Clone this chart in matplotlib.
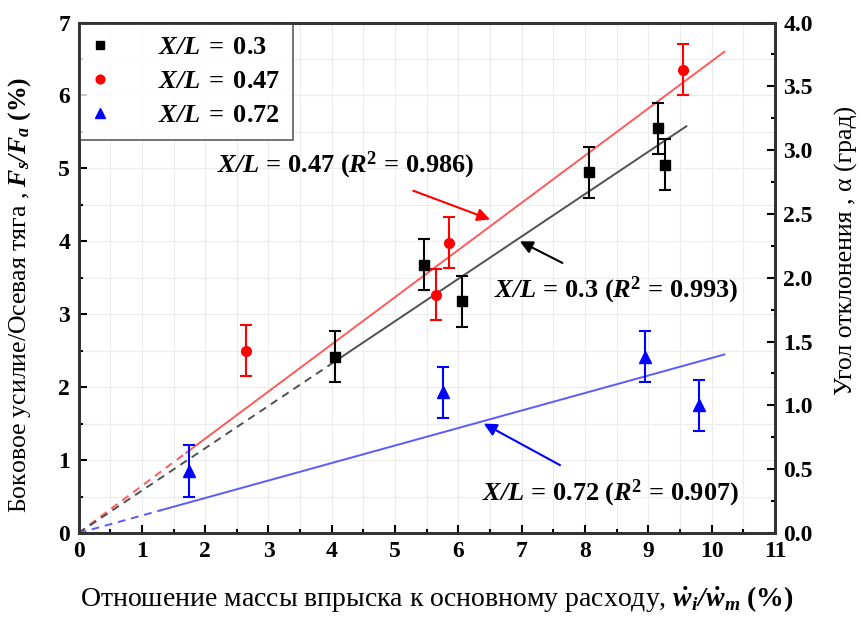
import numpy as np
import matplotlib.pyplot as plt
from matplotlib.ticker import MultipleLocator

plt.rcParams['font.family'] = ['Liberation Serif', 'DejaVu Serif']
plt.rcParams['mathtext.fontset'] = 'custom'
plt.rcParams['mathtext.rm'] = 'Liberation Serif'
plt.rcParams['mathtext.it'] = 'Liberation Serif:italic'
plt.rcParams['mathtext.bf'] = 'Liberation Serif:bold'
plt.rcParams['mathtext.bfit'] = 'Liberation Serif:bold:italic'

# данные
x_03 = [4.05, 5.45, 6.05, 8.07, 9.15, 9.27]
y_03 = [2.42, 3.68, 3.18, 4.95, 5.55, 5.05]
x_047 = [2.65, 5.65, 5.85, 9.55]
y_047 = [2.50, 3.27, 3.98, 6.35]
x_072 = [1.75, 5.75, 8.95, 9.80]
y_072 = [0.85, 1.93, 2.42, 1.75]
err = 0.35

# линии аппроксимации (наклон, начало сплошной части, конец)
fit_03 = (0.581, 4.05, 9.6)
fit_047 = (0.647, 1.7, 10.2)
fit_072 = (0.240, 1.3, 10.2)

fig = plt.figure(figsize=(8.63, 6.21), dpi=100)
ax = fig.add_axes([0.091, 0.1417, 0.807, 0.822])

for (k, x1, x2), c in [(fit_047, '#ff5a5a'), (fit_03, '#505050'), (fit_072, '#5a5aff')]:
    ax.plot([0, x1], [0, k * x1], color=c, lw=1.4, ls=(0, (4, 3)))
    ax.plot([x1, x2], [k * x1, k * x2], color=c, lw=1.4)

e1 = ax.errorbar(x_03, y_03, yerr=err, fmt='s', color='black', ms=7, capsize=4,
                 elinewidth=1.5, capthick=1.5)
e2 = ax.errorbar(x_047, y_047, yerr=err, fmt='o', color='red', ms=7, capsize=4,
                 elinewidth=1.5, capthick=1.5)
e3 = ax.errorbar(x_072, y_072, yerr=err, fmt='^', color='blue', ms=8, capsize=4,
                 elinewidth=1.5, capthick=1.5)

def lbl(v):
    return r'$\bfit{X/L}\;\mathbf{=}\;\mathbf{' + v + '}$'

def lbl_r2(v, r2):
    return (r'$\bfit{X/L}\,\mathbf{=}\,\mathbf{' + v + r'}\ \mathbf{(}\bfit{R}^{\mathbf{2}}\,\mathbf{=}\,\mathbf{'
            + r2 + ')}$')

ax.annotate(lbl_r2('0.47', '0.986'), xy=(6.5, 4.3), xytext=(4.22, 5.04),
            ha='center', va='center', fontsize=19,
            arrowprops=dict(arrowstyle='-|>', color='red', lw=1.5, shrinkA=14, shrinkB=0))
ax.annotate(lbl_r2('0.3', '0.993'), xy=(6.97, 4.0), xytext=(8.49, 3.33),
            ha='center', va='center', fontsize=19,
            arrowprops=dict(arrowstyle='-|>', color='black', lw=1.5, shrinkA=14, shrinkB=0))
ax.annotate(lbl_r2('0.72', '0.907'), xy=(6.4, 1.5), xytext=(8.41, 0.55),
            ha='center', va='center', fontsize=19,
            arrowprops=dict(arrowstyle='-|>', color='blue', lw=1.5, shrinkA=14, shrinkB=0))

ax.set_xlim(0, 11)
ax.set_ylim(0, 7)
ax.xaxis.set_major_locator(MultipleLocator(1))
ax.xaxis.set_minor_locator(MultipleLocator(0.5))
ax.yaxis.set_major_locator(MultipleLocator(1))
ax.yaxis.set_minor_locator(MultipleLocator(0.5))
ax.grid(which='both', color='#ececec', lw=0.8)
ax.set_axisbelow(True)
ax.tick_params(which='both', direction='in', width=1.5)
ax.tick_params(which='major', length=6, labelsize=17, pad=6)
ax.tick_params(which='minor', length=3)
for lab in ax.get_xticklabels() + ax.get_yticklabels():
    lab.set_fontweight('bold')
for s in ax.spines.values():
    s.set_linewidth(2)
    s.set_color('#333333')

ax.set_xlabel(r'Отношение массы впрыска к основному расходу, $\bfit{\dot{w}_i/\dot{w}_m}$ $\mathbf{(\%)}$',
              fontsize=20)
ax.xaxis.set_label_coords(0.515, -0.1)
ax.set_ylabel(r'Боковое усилие/Осевая тяга , $\bfit{F_s/F_a}$ $\mathbf{(\%)}$', fontsize=18.5)
ax.yaxis.set_label_coords(-0.066, 0.466)

ax2 = ax.twinx()
ax2.set_ylim(0, 4)
ax2.yaxis.set_major_locator(MultipleLocator(0.5))
ax2.yaxis.set_minor_locator(MultipleLocator(0.25))
ax2.yaxis.set_major_formatter('{x:.1f}')
ax2.tick_params(which='both', direction='in', width=1.5)
ax2.tick_params(which='major', length=6, labelsize=17, pad=6)
ax2.tick_params(which='minor', length=3)
for lab in ax2.get_yticklabels():
    lab.set_fontweight('bold')
for s in ax2.spines.values():
    s.set_linewidth(2)
    s.set_color('#333333')
ax2.set_ylabel('Угол отклонения , α (град)', fontsize=18.5)
ax2.yaxis.set_label_coords(1.086, 0.554)

leg = ax.legend([e1[0], e2[0], e3[0]], [lbl('0.3'), lbl('0.47'), lbl('0.72')],
                loc='upper left', fontsize=19, frameon=True, fancybox=False,
                edgecolor='#333333', borderaxespad=0.0, handletextpad=1.9,
                handlelength=0.6, labelspacing=0.4, borderpad=0.5, markerscale=0.9)
leg.get_frame().set_linewidth(1.2)

fig.savefig('out.png', dpi=100)
